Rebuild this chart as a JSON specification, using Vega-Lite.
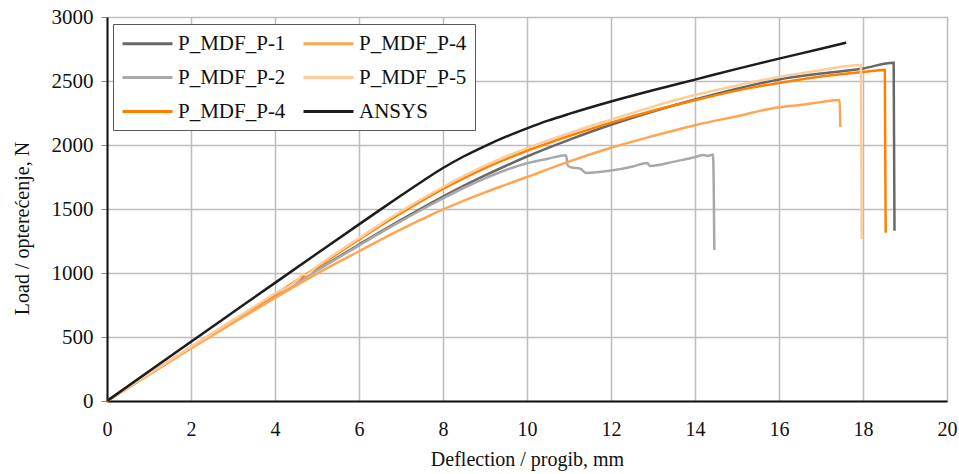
{
  "$schema": "https://vega.github.io/schema/vega-lite/v6.json",
  "autosize": {"type": "none"},
  "padding": {"left": 107, "top": 17, "right": 12, "bottom": 73},
  "width": 840,
  "height": 384,
  "background": "white",
  "config": {
    "view": {"stroke": "#595959", "strokeWidth": 1},
    "font": "Liberation Serif"
  },
  "datasets": {
    "curves": [
      {"s":"P-1","d":0,"L":0},{"s":"P-1","d":1,"L":208},{"s":"P-1","d":2,"L":418},{"s":"P-1","d":3,"L":622},{"s":"P-1","d":4,"L":825},{"s":"P-1","d":5,"L":1025},{"s":"P-1","d":6,"L":1222},{"s":"P-1","d":6.5,"L":1320},{"s":"P-1","d":7,"L":1415},{"s":"P-1","d":7.5,"L":1508},{"s":"P-1","d":8,"L":1597},{"s":"P-1","d":8.5,"L":1682},{"s":"P-1","d":9,"L":1762},{"s":"P-1","d":9.5,"L":1838},{"s":"P-1","d":10,"L":1910},{"s":"P-1","d":11,"L":2040},{"s":"P-1","d":12,"L":2158},{"s":"P-1","d":13,"L":2262},{"s":"P-1","d":14,"L":2355},{"s":"P-1","d":15,"L":2440},{"s":"P-1","d":16,"L":2512},{"s":"P-1","d":17,"L":2558},{"s":"P-1","d":18,"L":2598},{"s":"P-1","d":18.73,"L":2643},{"s":"P-1","d":18.75,"L":1330},
      {"s":"P-2","d":0,"L":0},{"s":"P-2","d":1,"L":208},{"s":"P-2","d":2,"L":416},{"s":"P-2","d":3,"L":620},{"s":"P-2","d":4,"L":822},{"s":"P-2","d":5,"L":1020},{"s":"P-2","d":6,"L":1215},{"s":"P-2","d":6.5,"L":1312},{"s":"P-2","d":7,"L":1405},{"s":"P-2","d":7.5,"L":1496},{"s":"P-2","d":8,"L":1583},{"s":"P-2","d":8.5,"L":1666},{"s":"P-2","d":9,"L":1740},{"s":"P-2","d":9.5,"L":1805},{"s":"P-2","d":10,"L":1858},{"s":"P-2","d":10.5,"L":1893},{"s":"P-2","d":10.93,"L":1920},{"s":"P-2","d":10.97,"L":1840},{"s":"P-2","d":11.05,"L":1825},{"s":"P-2","d":11.27,"L":1815},{"s":"P-2","d":11.41,"L":1782},{"s":"P-2","d":12,"L":1800},{"s":"P-2","d":12.5,"L":1830},{"s":"P-2","d":12.86,"L":1860},{"s":"P-2","d":12.93,"L":1836},{"s":"P-2","d":13.5,"L":1870},{"s":"P-2","d":14,"L":1905},{"s":"P-2","d":14.2,"L":1922},{"s":"P-2","d":14.3,"L":1915},{"s":"P-2","d":14.43,"L":1925},{"s":"P-2","d":14.46,"L":1180},
      {"s":"P-4a","d":0,"L":0},{"s":"P-4a","d":1,"L":210},{"s":"P-4a","d":2,"L":422},{"s":"P-4a","d":3,"L":628},{"s":"P-4a","d":4,"L":832},{"s":"P-4a","d":5,"L":1045},{"s":"P-4a","d":6,"L":1262},{"s":"P-4a","d":6.5,"L":1368},{"s":"P-4a","d":7,"L":1468},{"s":"P-4a","d":7.5,"L":1565},{"s":"P-4a","d":8,"L":1657},{"s":"P-4a","d":8.5,"L":1742},{"s":"P-4a","d":9,"L":1820},{"s":"P-4a","d":9.5,"L":1890},{"s":"P-4a","d":10,"L":1955},{"s":"P-4a","d":11,"L":2070},{"s":"P-4a","d":12,"L":2175},{"s":"P-4a","d":13,"L":2268},{"s":"P-4a","d":14,"L":2350},{"s":"P-4a","d":15,"L":2425},{"s":"P-4a","d":16,"L":2485},{"s":"P-4a","d":17,"L":2535},{"s":"P-4a","d":18,"L":2570},{"s":"P-4a","d":18.52,"L":2585},{"s":"P-4a","d":18.54,"L":1315},
      {"s":"P-4b","d":0,"L":0},{"s":"P-4b","d":1,"L":205},{"s":"P-4b","d":2,"L":410},{"s":"P-4b","d":3,"L":610},{"s":"P-4b","d":4,"L":805},{"s":"P-4b","d":5,"L":995},{"s":"P-4b","d":6,"L":1170},{"s":"P-4b","d":6.5,"L":1257},{"s":"P-4b","d":7,"L":1340},{"s":"P-4b","d":7.5,"L":1420},{"s":"P-4b","d":8,"L":1497},{"s":"P-4b","d":8.5,"L":1565},{"s":"P-4b","d":9,"L":1630},{"s":"P-4b","d":9.5,"L":1690},{"s":"P-4b","d":10,"L":1750},{"s":"P-4b","d":11,"L":1870},{"s":"P-4b","d":12,"L":1978},{"s":"P-4b","d":13,"L":2070},{"s":"P-4b","d":14,"L":2155},{"s":"P-4b","d":15,"L":2225},{"s":"P-4b","d":16,"L":2295},{"s":"P-4b","d":16.5,"L":2312},{"s":"P-4b","d":17,"L":2335},{"s":"P-4b","d":17.44,"L":2352},{"s":"P-4b","d":17.46,"L":2140},
      {"s":"P-5","d":0,"L":0},{"s":"P-5","d":1,"L":212},{"s":"P-5","d":2,"L":425},{"s":"P-5","d":3,"L":632},{"s":"P-5","d":4,"L":840},{"s":"P-5","d":4.6,"L":968},{"s":"P-5","d":4.65,"L":990},{"s":"P-5","d":4.72,"L":985},{"s":"P-5","d":5,"L":1052},{"s":"P-5","d":6,"L":1272},{"s":"P-5","d":6.5,"L":1380},{"s":"P-5","d":7,"L":1482},{"s":"P-5","d":7.5,"L":1580},{"s":"P-5","d":8,"L":1672},{"s":"P-5","d":8.5,"L":1758},{"s":"P-5","d":9,"L":1838},{"s":"P-5","d":9.5,"L":1910},{"s":"P-5","d":10,"L":1975},{"s":"P-5","d":11,"L":2092},{"s":"P-5","d":12,"L":2198},{"s":"P-5","d":13,"L":2300},{"s":"P-5","d":14,"L":2390},{"s":"P-5","d":15,"L":2465},{"s":"P-5","d":16,"L":2532},{"s":"P-5","d":17,"L":2585},{"s":"P-5","d":17.95,"L":2625},{"s":"P-5","d":17.97,"L":1265},
      {"s":"ANSYS","d":0,"L":0},{"s":"ANSYS","d":1,"L":232},{"s":"ANSYS","d":2,"L":463},{"s":"ANSYS","d":3,"L":693},{"s":"ANSYS","d":4,"L":923},{"s":"ANSYS","d":5,"L":1152},{"s":"ANSYS","d":6,"L":1380},{"s":"ANSYS","d":6.5,"L":1493},{"s":"ANSYS","d":7,"L":1605},{"s":"ANSYS","d":7.5,"L":1715},{"s":"ANSYS","d":8,"L":1820},{"s":"ANSYS","d":8.5,"L":1912},{"s":"ANSYS","d":9,"L":1992},{"s":"ANSYS","d":9.5,"L":2065},{"s":"ANSYS","d":10,"L":2130},{"s":"ANSYS","d":10.5,"L":2190},{"s":"ANSYS","d":11,"L":2243},{"s":"ANSYS","d":12,"L":2340},{"s":"ANSYS","d":13,"L":2428},{"s":"ANSYS","d":14,"L":2511},{"s":"ANSYS","d":15,"L":2595},{"s":"ANSYS","d":16,"L":2675},{"s":"ANSYS","d":17,"L":2752},{"s":"ANSYS","d":17.6,"L":2800}
    ]
  },
  "data": {"name": "curves"},
  "mark": {"type": "line", "strokeWidth": 2.5, "interpolate": "monotone"},
  "encoding": {
    "x": {
      "field": "d", "type": "quantitative",
      "scale": {"domain": [0, 20], "nice": false, "zero": true},
      "axis": {
        "title": "Deflection / progib, mm",
        "values": [0, 2, 4, 6, 8, 10, 12, 14, 16, 18, 20],
        "format": "d",
        "grid": true, "gridColor": "#bdbdbd", "gridWidth": 1.5, "gridOpacity": 1,
        "domainColor": "#111111", "domainWidth": 2,
        "ticks": false,
        "labelFont": "Liberation Serif", "labelFontSize": 20, "labelColor": "#111111",
        "labelPadding": 18, "labelFlush": false,
        "titleFont": "Liberation Serif", "titleFontSize": 20, "titleFontWeight": "normal", "titleColor": "#111111",
        "titlePadding": 10
      }
    },
    "y": {
      "field": "L", "type": "quantitative",
      "scale": {"domain": [0, 3000], "nice": false},
      "axis": {
        "title": "Load / opterećenje, N",
        "values": [0, 500, 1000, 1500, 2000, 2500, 3000],
        "format": "d",
        "grid": true, "gridColor": "#bdbdbd", "gridWidth": 1.5, "gridOpacity": 1,
        "domainColor": "#111111", "domainWidth": 2,
        "ticks": true, "tickSize": 6, "tickColor": "#8c8c8c", "tickWidth": 1,
        "labelFont": "Liberation Serif", "labelFontSize": 21, "labelColor": "#111111",
        "labelPadding": 8, "labelFlush": false,
        "titleFont": "Liberation Serif", "titleFontSize": 20, "titleFontWeight": "normal", "titleColor": "#111111",
        "titleX": -85, "titleY": 211, "titleBaseline": "middle", "titleAngle": -90, "titleAlign": "center"
      }
    },
    "color": {
      "field": "s", "type": "nominal",
      "scale": {
        "domain": ["P-1", "P-2", "P-4a", "P-4b", "P-5", "ANSYS"],
        "range": ["#686868", "#a8a8a8", "#ff8000", "#ffa552", "#ffcc99", "#1c1c1c"]
      },
      "legend": {
        "title": null,
        "orient": "none", "legendX": 6, "legendY": 7,
        "direction": "vertical", "columns": 2,
        "labelExpr": "datum.value == 'P-4a' || datum.value == 'P-4b' ? 'P_MDF_P-4' : datum.value == 'ANSYS' ? 'ANSYS' : 'P_MDF_' + datum.value",
        "symbolType": "M-2.5,0L2.5,0", "symbolSize": 400, "symbolStrokeWidth": 3, "symbolOffset": 15,
        "labelFont": "Liberation Serif", "labelFontSize": 21, "labelColor": "#111111",
        "labelOffset": 19, "rowPadding": 12, "columnPadding": 11,
        "padding": 8, "strokeColor": "#595959", "fillColor": "white",
        "labelLimit": 300
      }
    }
  }
}
